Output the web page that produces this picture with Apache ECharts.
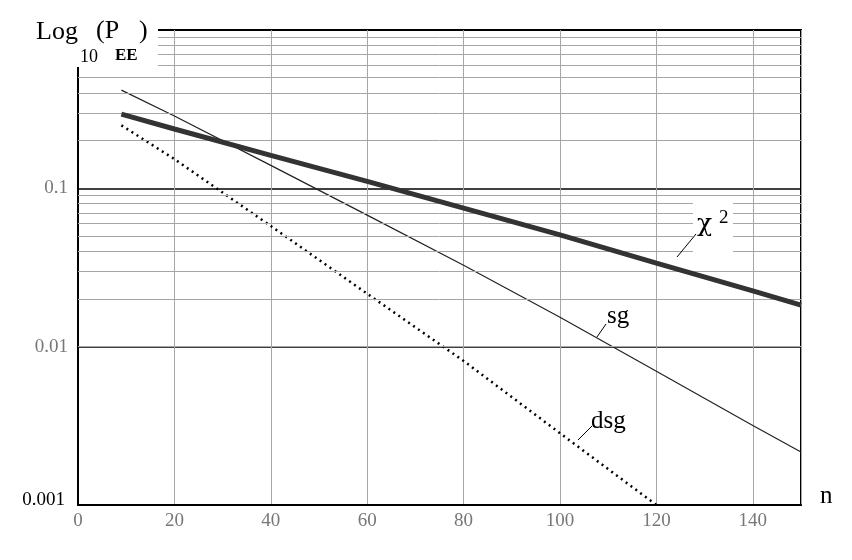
<!DOCTYPE html>
<html><head><meta charset="utf-8">
<script src="https://cdn.jsdelivr.net/npm/echarts@6/dist/echarts.min.js"></script>
<style>html,body{margin:0;padding:0;background:#fff}#c{width:852px;height:560px}</style>
</head><body><div id="c"></div>
<script>
// ---- data ----
const chiN   = [9, 20, 40, 60, 80, 100, 120, 140, 150];
const chi2   = [0.294, 0.237, 0.1614, 0.1106, 0.0750, 0.0508, 0.0337, 0.0225, 0.0183];
const sgN    = [9, 20, 40, 60, 80, 100, 120, 140, 150];
const sg     = [0.417, 0.286, 0.1396, 0.0677, 0.0327, 0.01536, 0.0070, 0.00318, 0.00216];
const dsgN   = [9, 20, 40, 60, 80, 100, 120];
const dsg    = [0.25, 0.153, 0.0578, 0.0216, 0.00813, 0.00284, 0.001];
const xTicks = [0, 20, 40, 60, 80, 100, 120, 140];
const yTickLabels = {'-3': '0.001', '-2': '0.01', '-1': '0.1', '0': ''};
const minorGrid = [0.002,0.003,0.004,0.005,0.006,0.007,0.008,0.009,
                   0.02,0.03,0.04,0.05,0.06,0.07,0.08,0.09,
                   0.2,0.3,0.4,0.5,0.6,0.7,0.8,0.9];

const pairs = (xs, ys) => xs.map((x, i) => [x, ys[i]]);
const serif = 'Liberation Serif, Times New Roman, serif';

const chart = echarts.init(document.getElementById('c'), null, {renderer: 'canvas'});
chart.setOption({
  animation: false,
  backgroundColor: '#fff',
  grid: {left: 78, right: 51, top: 30, bottom: 55, show: true,
         borderColor: '#000', borderWidth: 2, backgroundColor: 'transparent'},
  xAxis: {
    type: 'value', min: 0, max: 150, interval: 20,
    axisLine: {show: true, lineStyle: {color: '#000', width: 2}},
    axisTick: {show: false},
    axisLabel: {show: true, showMaxLabel: false, color: '#777', fontFamily: serif, fontSize: 19, margin: 7,
      formatter: v => (xTicks.indexOf(v) >= 0 ? String(v) : '')},
    splitLine: {show: true, lineStyle: {color: '#a6a6a6', width: 1}}
  },
  yAxis: {
    type: 'log', logBase: 10, min: 0.001, max: 1,
    axisLine: {show: true, lineStyle: {color: '#000', width: 2}},
    axisTick: {show: false},
    axisLabel: {color: '#777', fontFamily: serif, fontSize: 19, margin: 10,
      formatter: v => {
        const e = Math.round(Math.log10(v));
        const t = yTickLabels[String(e)] || '';
        return e === -3 ? '{k|' + t + '}' : t;
      },
      rich: {k: {color: '#000', fontFamily: serif, fontSize: 19, padding: [0, 3, 10, 0]}}
    },
    splitLine: {show: true, lineStyle: {color: '#000', width: 1.5}}
  },
  series: [
    {
      type: 'line', data: [], z: 1, silent: true,
      markLine: {
        silent: true, symbol: 'none', animation: false,
        label: {show: false},
        lineStyle: {color: '#a6a6a6', width: 1, type: 'solid'},
        data: minorGrid.map(v => ({yAxis: v}))
      }
    },
    {name: 'chi2', type: 'line', data: pairs(chiN, chi2), showSymbol: false, symbol: 'none', z: 5,
     lineStyle: {color: '#333', width: 5}},
    {name: 'sg', type: 'line', data: pairs(sgN, sg), showSymbol: false, symbol: 'none', z: 4,
     lineStyle: {color: '#222', width: 1.2}},
    {name: 'dsg', type: 'line', data: pairs(dsgN, dsg), showSymbol: false, symbol: 'none', z: 4,
     lineStyle: {color: '#000', width: 2.5, type: [2, 4]}}
  ],
  graphic: [
    // title block
    {type: 'rect', z: 100, shape: {x: 0, y: 0, width: 158, height: 67}, style: {fill: '#fff'}},
    {type: 'text', z: 101, x: 36, y: 19, style: {text: 'Log', font: '26px ' + serif, fill: '#000'}},
    {type: 'text', z: 101, x: 80, y: 48, style: {text: '10', font: '18px ' + serif, fill: '#000'}},
    {type: 'text', z: 101, x: 96, y: 18, style: {text: '(P', font: '26px ' + serif, fill: '#000'}},
    {type: 'text', z: 101, x: 115, y: 47, style: {text: 'EE', font: 'bold 17px ' + serif, fill: '#000'}},
    {type: 'text', z: 101, x: 139, y: 18, style: {text: ')', font: '26px ' + serif, fill: '#000'}},
    // axis name n
    {type: 'text', z: 101, x: 820, y: 484, style: {text: 'n', font: '25px ' + serif, fill: '#000'}},
    // chi^2 label
    {type: 'rect', z: 100, shape: {x: 693, y: 199, width: 40, height: 56}, style: {fill: '#fff'}},
    {type: 'line', z: 101, shape: {x1: 677, y1: 257, x2: 696, y2: 234}, style: {stroke: '#000', lineWidth: 1}},
    {type: 'text', z: 101, x: 697, y: 212, style: {text: 'χ', font: '25px DejaVu Serif, serif', fill: '#000'}},
    {type: 'text', z: 101, x: 719, y: 209, style: {text: '2', font: '19px ' + serif, fill: '#000'}},
    // sg label
    {type: 'line', z: 101, shape: {x1: 597, y1: 337, x2: 606, y2: 324}, style: {stroke: '#000', lineWidth: 1}},
    {type: 'text', z: 101, x: 607, y: 304, style: {text: 'sg', font: '25px ' + serif, fill: '#000'}},
    // dsg label
    {type: 'rect', z: 100, shape: {x: 583, y: 400, width: 54, height: 37}, style: {fill: '#fff'}},
    {type: 'line', z: 101, shape: {x1: 578, y1: 440, x2: 592, y2: 426}, style: {stroke: '#000', lineWidth: 1}},
    {type: 'text', z: 101, x: 591, y: 409, style: {text: 'dsg', font: '25px ' + serif, fill: '#000'}}
  ]
});
</script>
</body></html>
